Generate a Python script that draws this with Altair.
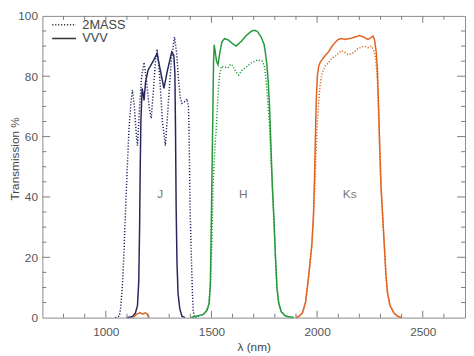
import altair as alt
import pandas as pd

# ---- data (wavelength nm, transmission %) ----
vvv_j_nm = [1100, 1126, 1140, 1150, 1156, 1160, 1163, 1166, 1172, 1177, 1181, 1188, 1200, 1220, 1243, 1258,
            1275, 1292, 1312, 1322, 1327, 1330, 1333, 1337, 1342, 1350, 1360, 1375]
vvv_j_t = [0, 0.3, 1.5, 4, 12, 30, 50, 65, 76, 74, 72, 78, 82, 84.5, 87.5, 82,
           76, 82, 88, 87, 81, 62, 36, 18, 8, 3, 0.5, 0]

tm_j_nm = [1045, 1064, 1070, 1078, 1085, 1092, 1100, 1110, 1120, 1126, 1135, 1145, 1150, 1160, 1170, 1181,
           1190, 1205, 1215, 1225, 1235, 1243, 1255, 1268, 1282, 1295, 1310, 1325, 1335, 1344, 1352,
           1360, 1372, 1385, 1391, 1394, 1397, 1400, 1405, 1410, 1414, 1420, 1430]
tm_j_t = [0, 0.5, 3, 10, 20, 33, 47, 63, 72, 75.5, 70, 60, 57, 70, 80, 84.6,
          80, 70, 66, 75, 85, 89, 80, 65, 57, 70, 85, 93, 88, 79, 73,
          71, 71.5, 72.5, 70, 62, 45, 33, 20, 8, 2, 0.3, 0]

vvv_h_nm = [1400, 1430, 1460, 1480, 1490, 1495, 1499, 1503, 1507, 1510, 1513, 1518, 1524, 1531, 1540, 1550,
            1562, 1580, 1600, 1617, 1640, 1665, 1690, 1705, 1718, 1735, 1749, 1755, 1762, 1768, 1775,
            1782, 1788, 1796, 1803, 1810, 1818, 1830, 1850, 1890]
vvv_h_t = [0, 0.5, 1, 2.5, 5, 12, 30, 50, 70, 85, 90.4, 88, 85, 83.8, 88, 91.5,
           92.5, 92, 90.8, 90, 91.5, 93.5, 95, 95.2, 94.8, 93, 90.6, 88, 84, 79, 70,
           56, 44, 32, 20, 10, 5, 2, 0.5, 0]

tm_h_nm = [1410, 1440, 1470, 1485, 1495, 1502, 1508, 1515, 1522, 1527, 1533, 1540, 1547, 1560, 1578, 1590,
           1601, 1615, 1629, 1645, 1664, 1690, 1718, 1741, 1752, 1758, 1765, 1773, 1780, 1788, 1796,
           1803, 1810, 1818, 1830, 1850, 1890]
tm_h_t = [0, 0.5, 1.5, 4, 10, 25, 45, 55, 62, 68, 76, 81, 83.3, 83, 82.8, 84,
          83.5, 81.5, 80.4, 82, 83, 84.5, 85.4, 85, 83, 79, 73, 66, 55, 44, 32,
          20, 10, 5, 2, 0.5, 0]

vvv_k_nm = [1900, 1912, 1930, 1945, 1959, 1975, 1983, 1988, 1992, 1996, 2001, 2008, 2016, 2029, 2040, 2053,
            2069, 2085, 2100, 2115, 2130, 2146, 2160, 2180, 2201, 2220, 2240, 2255, 2265, 2272, 2279,
            2285, 2290, 2296, 2302, 2310, 2318, 2326, 2333, 2345, 2364, 2380, 2400]
vvv_k_t = [0, 0.3, 1.5, 5, 13, 24, 34, 47, 60, 72, 80, 83.5, 84.8, 86, 87, 88,
           89.8, 91.2, 92.2, 92.5, 92.2, 92.4, 92.6, 93, 93.5, 93, 92.2, 92.8, 93.3, 92, 88.5,
           83, 72, 58, 44, 34, 24, 14, 8.3, 4, 1.5, 0.5, 0]

tm_k_nm = [1900, 1912, 1930, 1945, 1959, 1975, 1983, 1990, 1996, 2001, 2008, 2014, 2022, 2037, 2053, 2069,
           2084, 2100, 2115, 2130, 2145, 2162, 2175, 2190, 2205, 2224, 2240, 2258, 2268, 2276, 2282,
           2288, 2295, 2302, 2310, 2318, 2326, 2333, 2345, 2364, 2380, 2400]
tm_k_t = [0, 0.3, 1.5, 5, 13, 24, 34, 45, 57, 65, 72, 77, 80.5, 83.3, 84.4, 86,
          86.5, 87.5, 88.5, 88, 87.2, 87.5, 88, 89, 89.5, 90, 89.5, 90, 88.5, 86, 82,
          74, 58, 44, 34, 24, 14, 8.3, 4, 1.5, 0.5, 0]

vvv_leak_nm = [1130, 1140, 1150, 1162, 1175, 1188, 1198, 1206]
vvv_leak_t = [0, 0.8, 1.3, 1.6, 1.2, 1.6, 1.0, 0]

bands = ["J", "H", "Ks"]
band_colors = ["#26265e", "#23993a", "#e0621e"]
surveys = ["2MASS", "VVV"]

band_label_nm = [1257, 1650, 2154]
band_label_t = [41, 41, 41]

x_major = [1000, 1500, 2000, 2500]
x_minor = [800, 900, 1100, 1200, 1300, 1400, 1600, 1700, 1800, 1900, 2100, 2200, 2300, 2400, 2600]
y_labels = [0, 20, 40, 60, 80, 100]
y_major = [20, 40, 60, 80]
y_minor = [5, 10, 15, 25, 30, 35, 45, 50, 55, 65, 70, 75, 85, 90, 95]

# ---- build long table ----
rows = []
def add(series, band, survey, nm, t):
    for a, b in zip(nm, t):
        rows.append({"series": series, "band": band, "survey": survey, "nm": a, "T": b})

add("2MASS J", "J", "2MASS", tm_j_nm, tm_j_t)
add("VVV J", "J", "VVV", vvv_j_nm, vvv_j_t)
add("2MASS H", "H", "2MASS", tm_h_nm, tm_h_t)
add("VVV H", "H", "VVV", vvv_h_nm, vvv_h_t)
add("2MASS Ks", "Ks", "2MASS", tm_k_nm, tm_k_t)
add("VVV Ks", "Ks", "VVV", vvv_k_nm, vvv_k_t)
add("VVV Ks leak", "Ks", "VVV", vvv_leak_nm, vvv_leak_t)
df = pd.DataFrame(rows)

W, H = 430, 307
FONT = "Liberation Sans"
TICK = "#7a7a7a"
LABEL = "#555555"

xscale = alt.Scale(domain=[700, 2700], nice=False, zero=False)
yscale = alt.Scale(domain=[0, 100], nice=False, zero=False)

xaxis = alt.Axis(values=x_major, title="λ (nm)", format="d", ticks=False, domain=False,
                 grid=False, labelPadding=9, titlePadding=4)
yaxis = alt.Axis(values=y_labels, title="Transmission %", ticks=False, domain=False,
                 grid=False, labelPadding=5, titleX=-24, titleY=145, titleAngle=270,
                 titleBaseline="alphabetic")

lines = alt.Chart(df).mark_line(strokeWidth=1.5, clip=True).encode(
    x=alt.X("nm:Q", scale=xscale, axis=xaxis),
    y=alt.Y("T:Q", scale=yscale, axis=yaxis),
    color=alt.Color("band:N", scale=alt.Scale(domain=bands, range=band_colors), legend=None),
    strokeDash=alt.StrokeDash("survey:N",
                              scale=alt.Scale(domain=surveys, range=[[1.2, 1.8], [1, 0]]),
                              legend=alt.Legend(orient="none", legendX=10, legendY=2.5, title=None,
                                                symbolType="M-2.2,0H2.2", symbolSize=121,
                                                symbolStrokeWidth=1.5, symbolStrokeColor="#333333",
                                                symbolOffset=5.6, labelOffset=12, rowPadding=0,
                                                padding=0, labelFontSize=13, labelColor="#444444",
                                                labelFont=FONT)),
    detail="series:N",
    order="nm:Q",
)

def xticks(vals, length, top):
    d = pd.DataFrame({"v": vals})
    y0, y1 = (0, length) if top else (H, H - length)
    return alt.Chart(d).mark_rule(color=TICK, strokeWidth=1).encode(
        x=alt.X("v:Q", scale=xscale, axis=xaxis), y=alt.value(y0), y2=alt.value(y1))

def yticks(vals, length, right):
    d = pd.DataFrame({"v": vals})
    x0, x1 = (W, W - length) if right else (0, length)
    return alt.Chart(d).mark_rule(color=TICK, strokeWidth=1).encode(
        y=alt.Y("v:Q", scale=yscale, axis=yaxis), x=alt.value(x0), x2=alt.value(x1))

ticks = [
    xticks(x_major, 7, False), xticks(x_minor, 4, False),
    xticks(x_major, 7, True), xticks(x_minor, 4, True),
    yticks(y_major, 8, False), yticks(y_minor, 4, False),
    yticks(y_major, 8, True), yticks(y_minor, 4, True),
]

labels_df = pd.DataFrame({"band": bands, "nm": band_label_nm, "T": band_label_t})
band_text = alt.Chart(labels_df).mark_text(fontSize=12, color="#777777", font=FONT).encode(
    x=alt.X("nm:Q", scale=xscale, axis=xaxis),
    y=alt.Y("T:Q", scale=yscale, axis=yaxis),
    text="band:N",
)

chart = alt.layer(lines, band_text, *ticks).properties(
    width=W, height=H,
    padding={"left": 35, "top": 5, "right": 1, "bottom": 36},
    autosize=alt.AutoSizeParams(type="none"),
).configure_view(stroke="#8a8a8a", strokeWidth=1).configure_axis(
    labelFont=FONT, labelFontSize=12, labelColor=LABEL, titleFont=FONT, titleFontSize=12,
    titleColor="#444444", titleFontWeight="normal",
)

chart.save("out.html", embed_options={"renderer": "svg", "actions": False})
